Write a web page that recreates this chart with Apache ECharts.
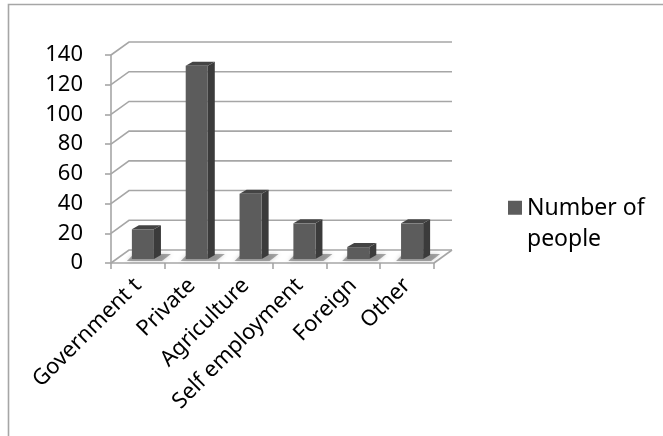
<!DOCTYPE html>
<html>
<head>
<meta charset="utf-8">
<script src="https://cdn.jsdelivr.net/npm/echarts@6/dist/echarts.min.js"></script>
<style>
  html, body { margin: 0; padding: 0; background: #fff; }
  #chart { width: 663px; height: 436px; }
</style>
</head>
<body>
<div id="chart"></div>
<script>
// Employment sector counts
const categories = ['Government t', 'Private', 'Agriculture', 'Self employment', 'Foreign', 'Other'];
const people = [20, 130, 44, 24, 8, 24];
const yTicks = [0, 20, 40, 60, 80, 100, 120, 140];
const seriesName = 'Number of people';

// Oblique depth of the box (back wall relative to front plane)
const DEPTH_X = 18, DEPTH_Y = -13;
// Bars sit a little behind the front plane, with their own shallow depth
const BAR_OFF_X = 5, BAR_OFF_Y = -4;
const BAR_DX = 7, BAR_DY = -4;

const gridColor = '#a6a6a6';
const LEGEND_LINE = 31;

function renderWall(params, api) {
  const cs = params.coordSys;
  const v = api.value(1);
  const y = api.coord([0, v])[1];
  const xl = cs.x, xr = cs.x + cs.width;
  const children = [{
    type: 'polyline',
    shape: { points: [[xl, y], [xl + DEPTH_X, y + DEPTH_Y], [xr + DEPTH_X, y + DEPTH_Y]] },
    style: { stroke: gridColor, lineWidth: 1.6, fill: null },
    silent: true
  }];
  if (v === 0) {
    children.push({
      type: 'line',
      shape: { x1: xr, y1: y, x2: xr + DEPTH_X, y2: y + DEPTH_Y },
      style: { stroke: gridColor, lineWidth: 1.6 },
      silent: true
    });
  }
  return { type: 'group', children: children };
}

function renderBar(params, api) {
  const idx = api.value(0);
  const base = api.coord([idx, 0]);
  const top = api.coord([idx, api.value(1)]);
  const w = api.size([1, 0])[0] * 0.41;
  const x0 = base[0] + BAR_OFF_X - w / 2;
  const x1 = x0 + w;
  const yb = base[1] + BAR_OFF_Y;
  const yt = top[1] + BAR_OFF_Y;
  return {
    type: 'group',
    children: [
      {
        // soft floor shadow
        type: 'polygon',
        shape: { points: [[x0 - 5, yb + 2], [x1 + 8, yb + 2], [x1 + BAR_DX + 10, yb + BAR_DY - 1], [x0 + 2, yb + BAR_DY - 1]] },
        style: { fill: 'rgba(70,70,70,0.45)', shadowBlur: 4, shadowColor: 'rgba(70,70,70,0.6)' },
        silent: true
      },
      {
        type: 'polygon',
        shape: { points: [[x1, yt], [x1 + BAR_DX, yt + BAR_DY], [x1 + BAR_DX, yb + BAR_DY], [x1, yb]] },
        style: { fill: '#3b3b3b' }
      },
      {
        type: 'polygon',
        shape: { points: [[x0, yt], [x0 + BAR_DX, yt + BAR_DY], [x1 + BAR_DX, yt + BAR_DY], [x1, yt]] },
        style: { fill: '#444444' }
      },
      {
        type: 'rect',
        shape: { x: x0, y: yt, width: w, height: yb - yt },
        style: { fill: '#5c5c5c' }
      }
    ]
  };
}

const chart = echarts.init(document.getElementById('chart'), null, { renderer: 'canvas' });

// Legend key: a square on the first text line (the tall icon box keeps it there)
const keyIcon = 'path://M0,0H14V14H0Z M0,' + (LEGEND_LINE * 1.5) + 'H0.05V' + (LEGEND_LINE * 1.5 + 0.05) + 'H0Z';

chart.setOption({
  animation: false,
  backgroundColor: '#ffffff',
  textStyle: { fontFamily: 'Noto Sans' },
  grid: { left: 111, right: 229, top: 55, bottom: 173, containLabel: false },
  graphic: [
    {
      type: 'polyline',
      shape: { points: [[8.5, 436], [8.5, 4.5], [663, 4.5]] },
      style: { stroke: '#a6a6a6', lineWidth: 1.6, fill: null },
      silent: true
    }
  ],
  legend: {
    data: [seriesName],
    left: 508,
    top: 193,
    padding: 0,
    orient: 'vertical',
    itemWidth: 14,
    itemHeight: LEGEND_LINE * 1.5,
    icon: keyIcon,
    formatter: function () { return 'Number of\npeople'; },
    textStyle: {
      fontFamily: 'Noto Sans',
      fontSize: 23,
      color: '#000',
      lineHeight: LEGEND_LINE
    },
    itemStyle: { color: '#5c5c5c' }
  },
  xAxis: {
    type: 'category',
    data: categories,
    boundaryGap: true,
    axisLine: { show: true, lineStyle: { color: gridColor, width: 1.6 } },
    axisTick: { show: true, length: 6, alignWithLabel: false, lineStyle: { color: gridColor, width: 1.6 } },
    axisLabel: {
      rotate: 45,
      interval: 0,
      margin: 19,
      fontFamily: 'Noto Sans',
      fontSize: 22,
      color: '#000'
    },
    splitLine: { show: false }
  },
  yAxis: {
    type: 'value',
    min: 0,
    max: 140,
    interval: 20,
    axisLine: { show: true, lineStyle: { color: gridColor, width: 1.6 } },
    axisTick: { show: true, length: 6, lineStyle: { color: gridColor, width: 1.6 } },
    axisLabel: {
      margin: 28,
      padding: [5, 0, 0, 0],
      fontFamily: 'Noto Sans',
      fontSize: 22,
      color: '#000'
    },
    splitLine: { show: false }
  },
  series: [
    {
      name: 'walls',
      type: 'custom',
      renderItem: renderWall,
      data: yTicks.map(function (v) { return [0, v]; }),
      silent: true,
      z: 1,
      tooltip: { show: false }
    },
    {
      name: seriesName,
      type: 'custom',
      renderItem: renderBar,
      itemStyle: { color: '#5c5c5c' },
      data: categories.map(function (c, i) { return [i, people[i]]; }),
      z: 2
    }
  ]
});
</script>
</body>
</html>
